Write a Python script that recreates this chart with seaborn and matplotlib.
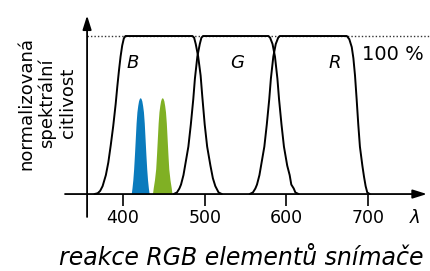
import matplotlib
matplotlib.use("Agg")
import matplotlib.pyplot as plt
import seaborn as sns
import pandas as pd

# filter curves: wavelength [nm], normalised sensitivity [%]
b_wl = [365, 369, 372, 375, 379, 382, 385, 388, 391, 393, 395, 397, 399, 401, 403,
        485, 487, 489, 492, 495, 497, 500, 503, 507, 510, 513, 517, 521]
b_val = [0, 0.5, 2, 5, 12, 20, 31, 43, 57, 68, 78, 87, 94, 98.5, 100,
         100, 99, 95, 87, 75, 62, 44, 30, 18, 10, 5, 1, 0]

g_wl = [462, 466, 469, 471, 474, 476, 480, 483, 486, 488, 491, 494, 496, 498,
        578, 580, 583, 586, 589, 591, 594, 597, 601, 604, 606, 609, 611, 615]
g_val = [0, 1, 3.5, 6, 12, 18, 30, 44, 60, 73, 87, 95, 99, 100,
         100, 99, 95, 87, 73, 60, 44, 30, 18, 12, 6, 3.5, 1, 0]

r_wl = [555, 559, 562, 564, 567, 569, 573, 576, 579, 581, 584, 587, 590, 592,
        674, 677, 680, 682, 684, 686, 688, 690, 693, 695, 697, 699, 702]
r_val = [0, 1, 3.5, 6, 12, 18, 30, 44, 60, 73, 87, 95, 99, 100,
         100, 98, 93, 86, 75, 60, 44, 30, 18, 11, 5, 1, 0]

# narrow emission peaks
blue_wl = [410, 411, 412, 413, 414, 415, 416, 417, 418, 419, 420, 421,
           422, 423, 424, 425, 426, 427, 428, 429, 430, 431, 432]
blue_val = [0, 4, 9, 16, 25, 35, 45, 52, 56, 59, 60.5, 61,
            60.5, 59, 56, 52, 45, 35, 25, 16, 9, 4, 0]
green_wl = [436, 437, 438.5, 440, 441, 442, 443, 444, 445, 446, 447, 448,
            449, 450, 451, 452, 453, 454, 455, 456, 457.5, 459, 460]
green_val = [0, 4, 9, 16, 25, 35, 45, 52, 56, 59, 60.5, 61,
             60.5, 59, 56, 52, 45, 35, 25, 16, 9, 4, 0]

ticks = [400, 500, 600, 700]
filter_names = ["B", "G", "R"]
filter_label_x = [412, 539.5, 659.5]

df = pd.concat([
    pd.DataFrame({"filter": "B", "wl": b_wl, "val": b_val}),
    pd.DataFrame({"filter": "G", "wl": g_wl, "val": g_val}),
    pd.DataFrame({"filter": "R", "wl": r_wl, "val": r_val}),
])

sns.set_style("white")
plt.rcParams["font.family"] = ["DejaVu Sans"]
plt.rcParams["text.color"] = "black"

fig = plt.figure(figsize=(4.3, 2.71), dpi=100)
ax = fig.add_axes([0, 0, 1, 1])
ax.set_xlim(249.4, 775.8)
ax.set_ylim(-48.7, 122.8)
ax.axis("off")

ax.fill_between(blue_wl, 0, blue_val, color="#0a7bbd", lw=0, zorder=1)
ax.fill_between(green_wl, 0, green_val, color="#80b024", lw=0, zorder=1)

sns.lineplot(data=df, x="wl", y="val", hue="filter", units="filter",
             estimator=None, palette=["black"] * 3, lw=1.4,
             legend=False, ax=ax, zorder=3)

# 100 % level
ax.plot([356, 776], [100, 100], color="#333333", lw=1, ls=(0, (1, 1.5)), zorder=2)

# axes with arrows
arrow = dict(arrowstyle="-|>,head_length=0.7,head_width=0.22", color="black",
             lw=1.3, mutation_scale=12, shrinkA=0, shrinkB=0)
ax.annotate("", xy=(356, 113), xytext=(356, -14.5), arrowprops=arrow)
ax.annotate("", xy=(772, 0), xytext=(329, 0), arrowprops=arrow)
ax.vlines(ticks, -7.5, 0, color="black", lw=1.2)
for t in ticks:
    ax.text(t, -15, str(t), ha="center", va="center", fontsize=12.5)
ax.text(757, -15, "λ", ha="center", va="center", fontsize=13, style="italic")

for name, x in zip(filter_names, filter_label_x):
    ax.text(x, 83, name, ha="center", va="center", fontsize=13, style="italic")
ax.text(730, 88.6, "100 %", ha="center", va="center", fontsize=14)

ax.text(307, 57.6, "normalizovaná\nspektrální\ncitlivost", rotation=90,
        ha="center", va="center", fontsize=13, linespacing=1.2)
ax.text(545, -40.5, "reakce RGB elementů snímače", ha="center", va="center",
        fontsize=17, style="italic")

plt.savefig("out.png", dpi=100)
